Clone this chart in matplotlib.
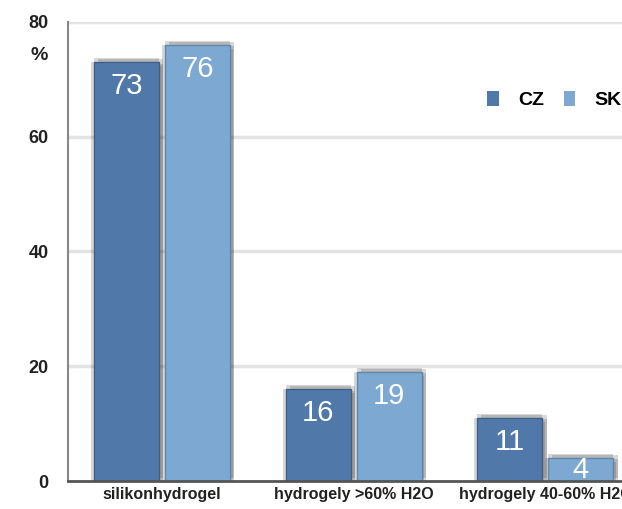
import matplotlib.pyplot as plt
import matplotlib.patheffects as pe
from matplotlib.patches import Patch
import numpy as np

categories = ['silikonhydrogel', 'hydrogely >60% H2O', 'hydrogely 40-60% H2O']
cz = [73, 16, 11]
sk = [76, 19, 4]
yticks = [0, 20, 40, 60, 80]

plt.rcParams['font.family'] = ['Liberation Sans', 'DejaVu Sans']

fig = plt.figure(figsize=(6.22, 5.09), dpi=100)
ax = fig.add_axes([68 / 622, 1 - 481 / 509, (622 - 68) / 622, 459 / 509])

x = np.arange(len(categories))
w = 0.34
off = 0.185
# soft dark glow round the bars
shadow = [pe.SimplePatchShadow(offset=o, shadow_rgbFace='#222222', alpha=0.18)
          for o in [(3, -1), (-2, 0), (0, 3), (3, 2), (2, -3)]] + [pe.Normal()]

bars_cz = ax.bar(x - off, cz, w, color='#5079aa', edgecolor='#3e5f86', linewidth=1, zorder=3)
bars_sk = ax.bar(x + off, sk, w, color='#7ca8d1', edgecolor='#5f86ad', linewidth=1, zorder=3)
for b in list(bars_cz) + list(bars_sk):
    b.set_path_effects(shadow)

# value labels inside near top
px_per_unit = 459 / 80
for bars, vals in [(bars_cz, cz), (bars_sk, sk)]:
    for b, v in zip(bars, vals):
        d = min(24, v * px_per_unit / 2)
        ax.annotate(str(v), (b.get_x() + b.get_width() / 2, v), xytext=(0, -d),
                    textcoords='offset pixels', ha='center', va='center',
                    color='white', fontsize=21, zorder=4)

ax.set_xlim(-0.49, 2.40)
ax.set_ylim(0, 80)
ax.set_yticks(yticks)
ax.set_yticklabels([str(t) for t in yticks], fontsize=13, fontweight='bold', color='#222222')
ax.set_xticks(x)
ax.set_xticklabels(categories, fontsize=11.5, fontweight='bold', color='#222222')
ax.tick_params(axis='both', length=0)
ax.tick_params(axis='y', pad=14)
ax.tick_params(axis='x', pad=4)

for t in yticks[1:]:
    ax.axhline(t, color='#e3e3e3', linewidth=2.5, zorder=1)

for s in ['top', 'right']:
    ax.spines[s].set_visible(False)
ax.spines['left'].set_color('#888888')
ax.spines['left'].set_linewidth(1.5)
ax.spines['bottom'].set_color('#555555')
ax.spines['bottom'].set_linewidth(2)
ax.spines['bottom'].set_zorder(5)

fig.text(39 / 622, 1 - 55 / 509, '%', fontsize=14, fontweight='bold', ha='center', va='center', color='#222222')

handles = [Patch(facecolor='#5079aa', label='CZ'), Patch(facecolor='#7ca8d1', label='SK')]
fig.legend(handles=handles, loc='center left', bbox_to_anchor=(487 / 622, 1 - 100 / 509),
           ncol=2, frameon=False, handlelength=0.6, handleheight=0.8,
           handletextpad=1.0, columnspacing=1.0, borderpad=0, borderaxespad=0,
           prop={'size': 14, 'weight': 'bold'})

fig.savefig('out.png', dpi=100)
